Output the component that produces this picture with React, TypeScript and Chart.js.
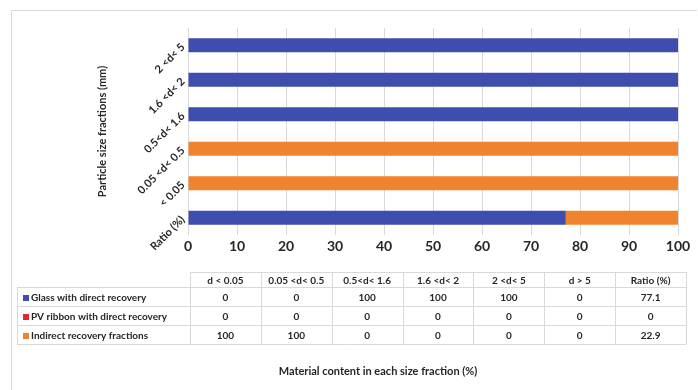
import React, { useEffect, useRef } from "react";
import { Chart, registerables } from "chart.js";

Chart.register(...registerables);

// ---- data ----
const tableColumns = ["d < 0.05", "0.05 <d< 0.5", "0.5<d< 1.6", "1.6 <d< 2", "2 <d< 5", "d > 5", "Ratio (%)"];
const seriesNames = ["Glass with direct recovery", "PV ribbon with direct recovery", "Indirect recovery fractions"];
const glassValues = [0, 0, 100, 100, 100, 0, 77.1];
const pvRibbonValues = [0, 0, 0, 0, 0, 0, 0];
const indirectValues = [100, 100, 0, 0, 0, 0, 22.9];
const barCategories = ["2 <d< 5", "1.6 <d< 2", "0.5<d< 1.6", "0.05 <d< 0.5", "< 0.05", "Ratio (%)"];
const barColumnIndex = [4, 3, 2, 1, 0, 6];
const xMin = 0;
const xMax = 100;
const xStep = 10;
const yTitle = "Particle size fractions (mm)";
const xTitle = "Material content in each size fraction (%)";

const seriesColors = ["#3F4DAF", "#E8232B", "#F0832E"];
const allSeries = [glassValues, pvRibbonValues, indirectValues];

const FONT = "Lato, 'Open Sans', sans-serif";
const TEXT = "#262626";
const GRID = "#d9d9d9";

const tablePlugin = {
  id: "dataTable",
  afterDraw(chart: any) {
    const ctx = chart.ctx as CanvasRenderingContext2D;
    ctx.save();
    ctx.lineWidth = 1;
    ctx.strokeStyle = GRID;
    // outer chart border
    ctx.beginPath();
    ctx.moveTo(11.5, 390);
    ctx.lineTo(11.5, 10.5);
    ctx.lineTo(697, 10.5);
    ctx.stroke();

    const left = 17;
    const colStart = 190;
    const colEnd = 686;
    const rows = [272, 287, 306, 325, 344];
    const colW = (colEnd - colStart) / tableColumns.length;

    ctx.beginPath();
    rows.forEach((y, i) => {
      ctx.moveTo(i === 0 ? colStart : left, y + 0.5);
      ctx.lineTo(colEnd, y + 0.5);
    });
    for (let k = 0; k <= tableColumns.length; k++) {
      const x = Math.round(colStart + k * colW) + 0.5;
      ctx.moveTo(x, rows[0]);
      ctx.lineTo(x, rows[rows.length - 1]);
    }
    ctx.moveTo(left + 0.5, rows[1]);
    ctx.lineTo(left + 0.5, rows[rows.length - 1]);
    ctx.stroke();

    ctx.fillStyle = TEXT;
    ctx.font = `bold 10px ${FONT}`;
    ctx.textBaseline = "middle";
    ctx.textAlign = "center";
    tableColumns.forEach((c, k) => {
      ctx.fillText(c, colStart + (k + 0.5) * colW, (rows[0] + rows[1]) / 2 + 1);
    });
    allSeries.forEach((vals, r) => {
      const yMid = (rows[r + 1] + rows[r + 2]) / 2 + 1;
      ctx.fillStyle = seriesColors[r];
      ctx.fillRect(23, Math.round(yMid - 3), 6, 6);
      ctx.fillStyle = TEXT;
      ctx.textAlign = "left";
      ctx.fillText(seriesNames[r], 31, yMid);
      ctx.textAlign = "center";
      vals.forEach((v, k) => {
        ctx.fillText(String(v), colStart + (k + 0.5) * colW, yMid);
      });
    });

    ctx.font = `bold 11px ${FONT}`;
    ctx.textAlign = "center";
    ctx.fillText(xTitle, 378, 371);
    ctx.restore();
  },
};

export default function App() {
  const ref = useRef<HTMLCanvasElement | null>(null);

  useEffect(() => {
    if (!ref.current) return;
    const datasets = allSeries.map((vals, i) => ({
      label: seriesNames[i],
      data: barColumnIndex.map((ci) => vals[ci]),
      backgroundColor: seriesColors[i],
      borderWidth: 0,
      barPercentage: 0.4,
      categoryPercentage: 1,
    }));
    const chart = new Chart(ref.current, {
      type: "bar",
      data: { labels: barCategories, datasets },
      plugins: [tablePlugin],
      options: {
        indexAxis: "y",
        animation: false,
        responsive: false,
        devicePixelRatio: 1,
        layout: { padding: { top: 28, right: 20, bottom: 125, left: 0 } },
        plugins: {
          legend: { display: false },
          tooltip: { enabled: false },
          title: { display: false },
        },
        scales: {
          x: {
            stacked: true,
            min: xMin,
            max: xMax,
            ticks: {
              stepSize: xStep,
              padding: 3,
              color: TEXT,
              font: { family: FONT, size: 14, weight: "bold" },
            },
            grid: { color: GRID, drawTicks: false },
            border: { display: false },
            afterFit: (s: any) => {
              s.height = 30;
            },
          },
          y: {
            stacked: true,
            ticks: {
              minRotation: 45,
              maxRotation: 45,
              padding: 5,
              color: TEXT,
              font: { family: FONT, size: 11, weight: "bold" },
            },
            grid: { display: false, drawTicks: false },
            border: { display: false },
            title: {
              display: true,
              text: yTitle,
              color: TEXT,
              font: { family: FONT, size: 11, weight: "bold" },
              padding: { top: 96, bottom: 0 },
            },
            afterFit: (s: any) => {
              s.width = 188;
            },
          },
        },
      },
    } as any);
    return () => chart.destroy();
  }, []);

  return (
    <div style={{ position: "fixed", left: 0, top: 0, width: 698, height: 390, background: "#fff" }}>
      <canvas ref={ref} width={698} height={390} style={{ display: "block" }} />
    </div>
  );
}
